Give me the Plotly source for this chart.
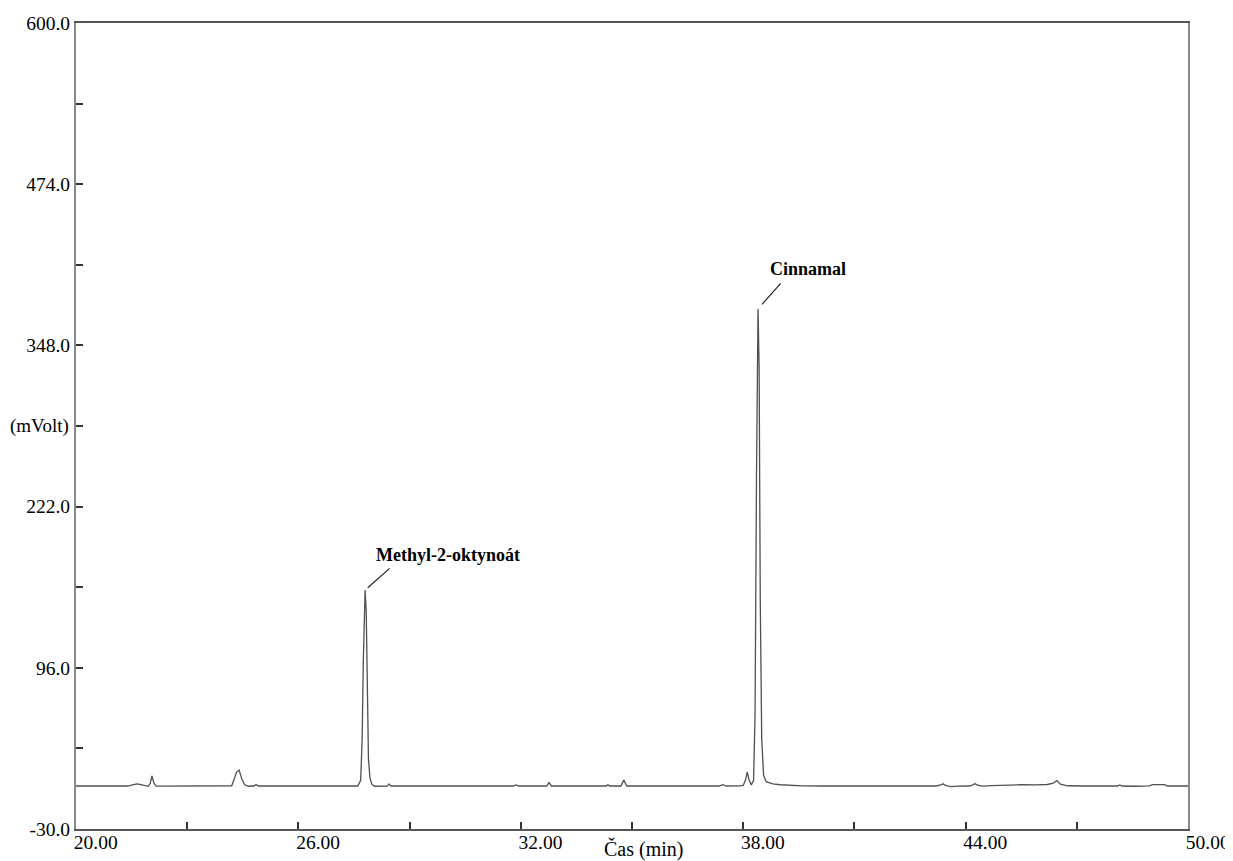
import plotly.graph_objects as go

# Chromatogram trace (time in min, signal in mVolt)
time_min = [
    20.00, 21.00, 21.40, 21.55, 21.65, 21.75, 21.85, 21.95, 22.00, 22.05, 22.10, 22.16,
    22.40, 23.00, 23.60, 24.20, 24.27, 24.33, 24.40, 24.47, 24.55, 24.65, 24.80, 24.86, 24.92,
    25.50, 26.20, 27.00, 27.60, 27.68, 27.72, 27.75, 27.78, 27.80, 27.83, 27.86, 27.89, 27.93,
    27.98, 28.05, 28.20, 28.40, 28.44, 28.50, 29.20, 30.00, 30.80, 31.40, 31.80, 31.87, 31.95,
    32.30, 32.70, 32.76, 32.83, 33.30, 33.90, 34.30, 34.35, 34.40, 34.70, 34.78, 34.86, 35.30,
    36.00, 36.60, 37.35, 37.45, 37.55, 37.90, 38.00, 38.06, 38.11, 38.16, 38.22, 38.28, 38.32,
    38.36, 38.40, 38.43, 38.46, 38.50, 38.55, 38.62, 38.70, 38.80, 39.00, 39.30, 39.60, 40.20,
    41.00, 41.80, 42.60, 43.20, 43.33, 43.39, 43.46, 43.60, 43.80, 44.10, 44.20, 44.25, 44.32,
    44.45, 44.70, 45.10, 45.50, 45.90, 46.20, 46.35, 46.46, 46.56, 46.75, 47.20, 47.80, 48.10,
    48.16, 48.22, 48.60, 48.95, 49.05, 49.37, 49.45, 50.00,
]
signal_mv = [
    3.6, 3.6, 3.6, 4.6, 5.2, 4.6, 3.8, 3.4, 5.5, 11.4, 6.0, 3.6,
    3.5, 3.6, 3.6, 3.8, 9.0, 14.5, 16.0, 9.5, 4.6, 3.4, 3.6, 4.8, 3.6,
    3.6, 3.6, 3.6, 3.6, 8.0, 40.0, 100.0, 145.0, 156.8, 140.0, 80.0, 25.0, 10.0,
    5.0, 3.4, 3.5, 3.6, 5.2, 3.6, 3.6, 3.6, 3.6, 3.7, 3.6, 4.4, 3.6,
    3.6, 3.6, 6.3, 3.6, 3.6, 3.6, 3.6, 4.5, 3.6, 3.6, 8.2, 3.6, 3.6,
    3.6, 3.6, 3.6, 4.6, 3.6, 3.7, 4.0, 8.0, 14.5, 8.0, 4.5, 8.0, 60.0,
    250.0, 376.5, 330.0, 150.0, 40.0, 12.0, 7.0, 6.0, 5.2, 4.6, 4.1, 3.7, 3.6,
    3.6, 3.6, 3.6, 3.6, 4.4, 5.3, 4.0, 3.2, 3.5, 3.6, 4.4, 5.5, 4.2,
    3.5, 3.9, 4.3, 4.6, 4.5, 4.8, 5.6, 7.8, 5.0, 3.8, 3.6, 3.6, 3.6,
    4.4, 3.6, 3.4, 3.7, 4.7, 4.7, 3.6, 3.6,
]

peak_labels = ["Methyl-2-oktynoát", "Cinnamal"]
peak_index = [signal_mv.index(156.8), signal_mv.index(376.5)]

x_ticks = [20, 26, 32, 38, 44, 50]
y_ticks = [-30.0, 96.0, 222.0, 348.0, 474.0, 600.0]

FONT = "Liberation Serif"

fig = go.Figure()
fig.add_trace(go.Scatter(
    x=time_min, y=signal_mv, mode="lines",
    line=dict(color="#505050", width=1.3),
    hoverinfo="skip", showlegend=False,
))

# leader lines and labels
leader = [dict(ax=26, ay=-23, standoff=3.5, dx=9, dy=35),
          dict(ax=24, ay=-27, standoff=6, dx=10, dy=40)]
for lbl, idx, ld in zip(peak_labels, peak_index, leader):
    fig.add_annotation(
        x=time_min[idx], y=signal_mv[idx], xref="x", yref="y",
        text="", showarrow=True, arrowhead=0, arrowwidth=1.2, arrowcolor="#222",
        ax=ld["ax"], ay=ld["ay"], standoff=ld["standoff"],
    )
    fig.add_annotation(
        x=time_min[idx], y=signal_mv[idx], xref="x", yref="y",
        text="<b>" + lbl + "</b>", showarrow=False,
        xanchor="left", yanchor="middle", xshift=ld["dx"], yshift=ld["dy"],
        font=dict(family=FONT, size=18, color="black"),
    )

# axis titles
fig.add_annotation(
    x=0, y=0.5, xref="paper", yref="paper", text="(mVolt)", showarrow=False,
    xanchor="right", yanchor="middle", xshift=-5,
    font=dict(family=FONT, size=19, color="black"),
)
fig.add_annotation(
    x=0.51, y=0, xref="paper", yref="paper", text="Čas (min)", showarrow=False,
    xanchor="center", yanchor="middle", yshift=-20,
    font=dict(family=FONT, size=20, color="black"),
)

fig.update_xaxes(
    range=[20, 50], tickvals=x_ticks, ticktext=[f"{v:.2f}" for v in x_ticks],
    ticks="inside", ticklen=7, tickwidth=1.5, tickcolor="#333",
    ticklabelposition="outside right", ticklabelshift=-4, ticklabelstandoff=-5,
    minor=dict(ticks="inside", tickvals=[23, 29, 35, 41, 47], ticklen=7, tickwidth=1.5, tickcolor="#333"),
    showline=True, linecolor="#555", linewidth=2, mirror=True,
    showgrid=False, zeroline=False, automargin=False,
    tickfont=dict(family=FONT, size=19.5, color="black"),
)
fig.update_yaxes(
    range=[-30, 600], tickvals=y_ticks, ticktext=[f"{v:.1f}" for v in y_ticks],
    ticks="inside", ticklen=7, tickwidth=1.5, tickcolor="#333",
    minor=dict(ticks="inside", tickvals=[33, 159, 285, 411, 537], ticklen=7, tickwidth=1.5, tickcolor="#333"),
    showline=True, linecolor="#888", linewidth=2, mirror=True,
    showgrid=False, zeroline=False, automargin=False,
    tickfont=dict(family=FONT, size=19.5, color="black"),
)

# page body adds an 8 px offset, so the figure is 8 px smaller each way
fig.update_layout(
    width=1225, height=853,
    margin=dict(l=68, r=45, t=15, b=32),
    paper_bgcolor="white", plot_bgcolor="white",
)

fig.write_html("out.html")
